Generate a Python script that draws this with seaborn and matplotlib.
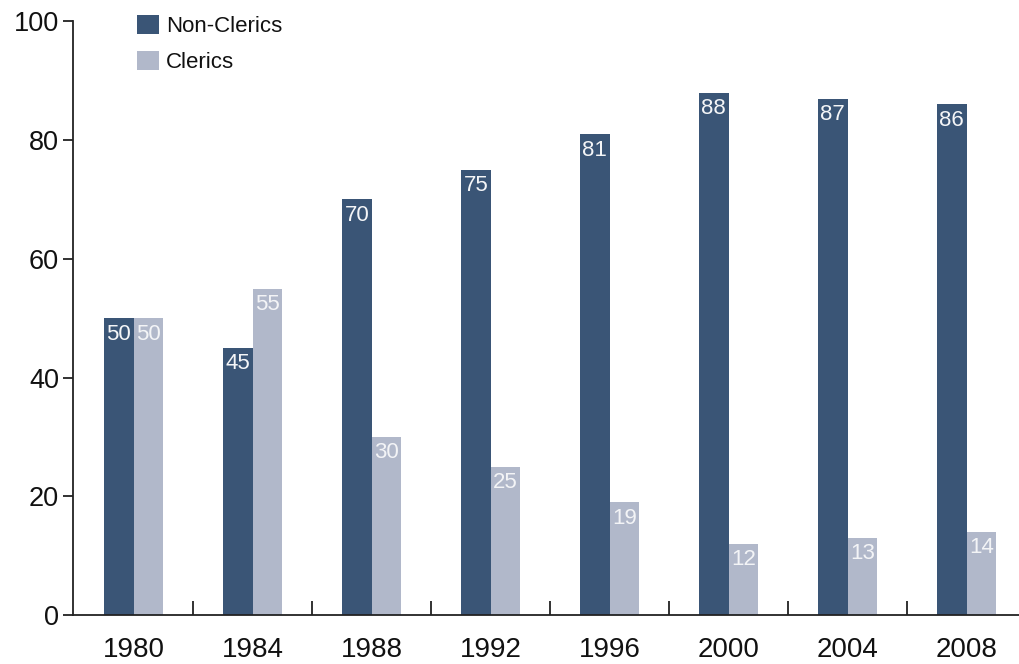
import matplotlib
matplotlib.use("Agg")
import matplotlib.pyplot as plt
import seaborn as sns
import pandas as pd
import numpy as np

years = ["1980", "1984", "1988", "1992", "1996", "2000", "2004", "2008"]
non_clerics = [50, 45, 70, 75, 81, 88, 87, 86]
clerics = [50, 55, 30, 25, 19, 12, 13, 14]
series = ["Non-Clerics", "Clerics"]
colors = ["#3a5576", "#b1b8ca"]

df = pd.DataFrame({
    "year": years * 2,
    "value": non_clerics + clerics,
    "group": [series[0]] * len(years) + [series[1]] * len(years),
})

sns.set_theme(style="white")
plt.rcParams["font.family"] = ["Liberation Sans", "DejaVu Sans"]

fig = plt.figure(figsize=(10.19, 6.64), dpi=100)
ax = fig.add_axes([0.0716, 0.0738, 0.9284, 0.894])

sns.barplot(data=df, x="year", y="value", hue="group", order=years,
            hue_order=series, palette=colors, width=0.5, saturation=1,
            ax=ax, edgecolor="none", linewidth=0)

ax.set_ylim(0, 100)
ax.set_xlim(-0.51, 7.44)
ax.set_xlabel("")
ax.set_ylabel("")

for i, cont in enumerate(ax.containers):
    ax.bar_label(cont, labels=[str(v) for v in (non_clerics if i == 0 else clerics)],
                 label_type="edge", padding=-19, color="white", fontsize=16,
                 alpha=0.95 if i == 0 else 0.85)

for s in ["top", "right"]:
    ax.spines[s].set_visible(False)
for s in ["left", "bottom"]:
    ax.spines[s].set_color("#222222")
    ax.spines[s].set_linewidth(1.3)

ax.set_yticks([0, 20, 40, 60, 80, 100])
ax.tick_params(axis="y", direction="out", length=7, width=1.3, color="#222222",
               labelsize=19.5, left=True, pad=3, labelcolor="#111111")
ax.tick_params(axis="x", bottom=False, labelsize=20, pad=10, labelcolor="#111111")
ax.set_xticks(range(len(years)))
ax.set_xticklabels(years)
ax.set_xticks(np.arange(0.5, len(years) - 0.5, 1), minor=True)
ax.tick_params(axis="x", which="minor", direction="in", length=10, width=1.3,
               color="#222222", bottom=True)

leg = ax.legend(loc="upper left", bbox_to_anchor=(0.047, 1.045), frameon=False,
                fontsize=16, handlelength=0.95, handleheight=0.95,
                handletextpad=0.35, labelspacing=0.62)
for t in leg.get_texts():
    t.set_color("#111111")

fig.savefig("out.png", dpi=100)
